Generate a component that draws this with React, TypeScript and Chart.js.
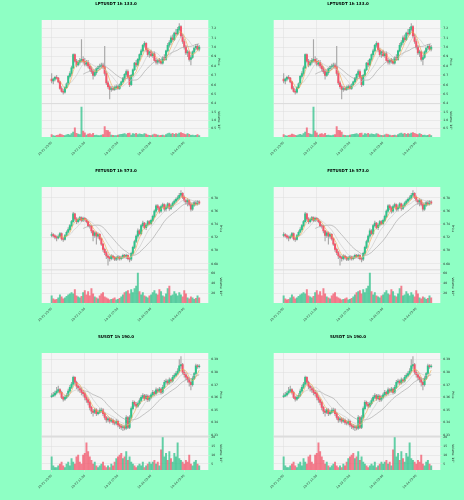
import React, { useEffect, useRef } from 'react';
import { Chart, registerables } from 'chart.js';

Chart.register(...registerables);

const FONT = '"DejaVu Sans", sans-serif';
const PAGE_BG = '#8effc4';
const PLOT_BG = '#f5f5f5';
const GRID = '#dcdcdc';
const UP = '#2fc28a';
const DOWN = '#f2566b';
const VOL_UP = 'rgba(47,194,138,0.75)';
const VOL_DOWN = 'rgba(242,86,107,0.75)';
const WICK = '#a8a8a8';
const MA_WINDOWS = [5, 10, 20];
const MA_COLORS = ['#f0a848', '#c8c8c8', '#a0a0a0'];

const X_TICKS = [0, 20, 40, 60, 80];
const X_LABELS = ['10-21 15:00', '10-22 11:00', '10-23 07:00', '10-24 03:00', '10-24 23:00'];

// ---------- LPTUSDT ----------
const LPT_OPEN = [6.66,6.64,6.66,6.68,6.67,6.63,6.56,6.53,6.52,6.57,6.61,6.69,6.72,6.78,6.92,6.85,6.81,6.84,6.86,6.87,6.85,6.82,6.84,6.80,6.77,6.74,6.70,6.73,6.77,6.79,6.80,6.81,6.79,6.72,6.62,6.58,6.55,6.56,6.55,6.57,6.58,6.56,6.60,6.63,6.67,6.71,6.74,6.68,6.60,6.70,6.76,6.83,6.81,6.87,6.92,6.96,7.02,7.04,6.97,6.92,6.95,6.91,6.93,6.86,6.84,6.86,6.85,6.83,6.89,6.87,6.96,7.02,7.05,7.10,7.08,7.15,7.14,7.19,7.22,7.12,7.06,7.00,6.94,6.95,6.87,6.89,6.95,6.99,7.01,6.98];
const LPT_HIGH = [6.72,6.67,6.69,6.70,6.68,6.64,6.58,6.55,6.58,6.62,6.70,6.74,6.80,6.93,6.93,6.87,6.86,6.88,7.08,6.90,6.88,6.86,6.86,6.82,6.79,6.76,6.75,6.78,6.80,6.82,6.83,6.83,7.01,6.74,6.64,6.60,6.58,6.58,6.59,6.60,6.60,6.61,6.64,6.68,6.72,6.76,6.76,6.70,6.71,6.77,6.84,6.86,6.88,6.93,6.98,7.03,7.06,7.05,6.99,6.96,6.97,6.95,6.95,6.88,6.87,6.88,6.87,6.90,6.92,6.97,7.04,7.07,7.12,7.13,7.16,7.19,7.21,7.25,7.23,7.14,7.08,7.02,6.97,6.96,6.91,6.96,7.00,7.03,7.03,7.02];
const LPT_LOW = [6.62,6.61,6.64,6.66,6.62,6.55,6.52,6.50,6.51,6.56,6.60,6.67,6.70,6.77,6.84,6.79,6.80,6.82,6.84,6.83,6.80,6.80,6.78,6.75,6.72,6.66,6.69,6.71,6.75,6.76,6.78,6.77,6.70,6.60,6.56,6.45,6.53,6.54,6.54,6.55,6.55,6.55,6.59,6.62,6.65,6.69,6.67,6.58,6.59,6.69,6.75,6.79,6.80,6.85,6.90,6.95,7.00,6.95,6.90,6.89,6.90,6.89,6.85,6.82,6.82,6.83,6.82,6.82,6.86,6.86,6.95,7.00,7.03,7.06,7.07,7.12,7.13,7.17,7.10,7.04,6.98,6.92,6.90,6.85,6.81,6.88,6.94,6.97,6.97,6.96];
const LPT_CLOSE = [6.64,6.66,6.68,6.67,6.63,6.56,6.53,6.52,6.57,6.61,6.69,6.72,6.78,6.92,6.85,6.81,6.84,6.86,6.87,6.85,6.82,6.84,6.80,6.77,6.74,6.70,6.73,6.77,6.79,6.80,6.81,6.79,6.72,6.62,6.58,6.55,6.56,6.55,6.57,6.58,6.56,6.60,6.63,6.67,6.71,6.74,6.68,6.60,6.70,6.76,6.83,6.81,6.87,6.92,6.96,7.02,7.04,6.97,6.92,6.95,6.91,6.93,6.86,6.84,6.86,6.85,6.83,6.89,6.87,6.96,7.02,7.05,7.10,7.08,7.15,7.14,7.19,7.22,7.12,7.06,7.00,6.94,6.95,6.87,6.89,6.95,6.99,7.01,6.98,7.00];
const LPT_VOLUME = [0.15,0.08,0.06,0.10,0.12,0.18,0.14,0.10,0.09,0.13,0.16,0.12,0.20,0.30,0.55,0.22,0.18,0.15,1.78,0.35,0.25,0.12,0.18,0.20,0.14,0.22,0.10,0.12,0.09,0.08,0.11,0.15,0.62,0.40,0.38,0.30,0.12,0.10,0.08,0.09,0.11,0.14,0.16,0.18,0.20,0.15,0.22,0.24,0.12,0.20,0.18,0.22,0.15,0.19,0.16,0.14,0.20,0.17,0.12,0.10,0.09,0.13,0.18,0.15,0.11,0.08,0.10,0.12,0.09,0.14,0.20,0.24,0.18,0.22,0.16,0.20,0.18,0.24,0.26,0.22,0.18,0.14,0.20,0.16,0.10,0.12,0.08,0.10,0.14,0.09];
const LPT_PRICE_TICKS = [6.4, 6.5, 6.6, 6.7, 6.8, 6.9, 7.0, 7.1, 7.2];
const LPT_VOL_TICKS = [0.5, 1.0, 1.5];

// ---------- FETUSDT ----------
const FET_OPEN = [0.7230,0.7245,0.7225,0.7205,0.7195,0.7215,0.7260,0.7180,0.7170,0.7230,0.7280,0.7320,0.7380,0.7440,0.7560,0.7480,0.7440,0.7470,0.7500,0.7460,0.7490,0.7470,0.7440,0.7380,0.7370,0.7300,0.7230,0.7270,0.7220,0.7250,0.7180,0.7100,0.7020,0.6970,0.6920,0.6900,0.6880,0.6920,0.6900,0.6870,0.6890,0.6910,0.6880,0.6900,0.6930,0.6910,0.6930,0.6880,0.6870,0.6960,0.7050,0.7140,0.7220,0.7300,0.7260,0.7380,0.7420,0.7350,0.7390,0.7440,0.7410,0.7460,0.7520,0.7600,0.7680,0.7650,0.7600,0.7670,0.7700,0.7630,0.7660,0.7710,0.7640,0.7680,0.7720,0.7750,0.7780,0.7800,0.7840,0.7870,0.7810,0.7760,0.7740,0.7760,0.7700,0.7630,0.7690,0.7730,0.7710,0.7740];
const FET_HIGH = [0.7275,0.7260,0.7240,0.7225,0.7240,0.7280,0.7270,0.7200,0.7250,0.7300,0.7350,0.7400,0.7460,0.7580,0.7570,0.7500,0.7495,0.7520,0.7515,0.7510,0.7505,0.7485,0.7450,0.7400,0.7385,0.7310,0.7290,0.7285,0.7270,0.7260,0.7190,0.7110,0.7040,0.6990,0.6940,0.6920,0.6940,0.6935,0.6915,0.6910,0.6930,0.6920,0.6920,0.6950,0.6945,0.6950,0.6940,0.6900,0.6980,0.7070,0.7160,0.7240,0.7330,0.7320,0.7400,0.7450,0.7430,0.7410,0.7460,0.7455,0.7480,0.7540,0.7620,0.7700,0.7700,0.7670,0.7690,0.7720,0.7710,0.7690,0.7730,0.7720,0.7700,0.7740,0.7770,0.7800,0.7830,0.7870,0.7910,0.7880,0.7830,0.7780,0.7790,0.7780,0.7720,0.7710,0.7750,0.7760,0.7760,0.7760];
const FET_LOW = [0.7210,0.7205,0.7180,0.7150,0.7180,0.7200,0.7160,0.7140,0.7160,0.7215,0.7265,0.7300,0.7360,0.7430,0.7460,0.7410,0.7420,0.7450,0.7440,0.7440,0.7450,0.7420,0.7360,0.7340,0.7270,0.7150,0.7200,0.7100,0.7190,0.7160,0.7080,0.6990,0.6940,0.6880,0.6780,0.6840,0.6860,0.6870,0.6850,0.6850,0.6860,0.6855,0.6860,0.6880,0.6890,0.6880,0.6860,0.6830,0.6850,0.6940,0.7030,0.7120,0.7190,0.7240,0.7240,0.7360,0.7330,0.7320,0.7370,0.7390,0.7390,0.7440,0.7500,0.7580,0.7620,0.7570,0.7580,0.7650,0.7600,0.7600,0.7640,0.7610,0.7620,0.7660,0.7700,0.7730,0.7760,0.7780,0.7820,0.7790,0.7740,0.7700,0.7680,0.7680,0.7600,0.7610,0.7670,0.7690,0.7690,0.7700];
const FET_CLOSE = [0.7245,0.7225,0.7205,0.7195,0.7215,0.7260,0.7180,0.7170,0.7230,0.7280,0.7320,0.7380,0.7440,0.7560,0.7480,0.7440,0.7470,0.7500,0.7460,0.7490,0.7470,0.7440,0.7380,0.7370,0.7300,0.7230,0.7270,0.7220,0.7250,0.7180,0.7100,0.7020,0.6970,0.6920,0.6900,0.6880,0.6920,0.6900,0.6870,0.6890,0.6910,0.6880,0.6900,0.6930,0.6910,0.6930,0.6880,0.6870,0.6960,0.7050,0.7140,0.7220,0.7300,0.7260,0.7380,0.7420,0.7350,0.7390,0.7440,0.7410,0.7460,0.7520,0.7600,0.7680,0.7650,0.7600,0.7670,0.7700,0.7630,0.7660,0.7710,0.7640,0.7680,0.7720,0.7750,0.7780,0.7800,0.7840,0.7870,0.7810,0.7760,0.7740,0.7760,0.7700,0.7630,0.7690,0.7730,0.7710,0.7740,0.7720];
const FET_VOLUME = [16,10,8,9,12,18,14,10,12,15,18,20,22,20,28,16,14,12,15,22,26,18,24,16,30,20,14,12,10,16,20,22,14,12,10,8,9,10,12,8,9,11,14,18,22,24,26,20,28,22,30,35,60,24,18,22,16,14,12,16,18,22,26,20,18,28,24,16,14,20,30,35,16,18,24,20,16,22,18,14,26,20,12,10,14,12,9,11,16,12];
const FET_PRICE_TICKS = [0.68, 0.70, 0.72, 0.74, 0.76, 0.78];
const FET_VOL_TICKS = [20, 40, 60];

// ---------- SUSDT ----------
const S_OPEN = [0.3605,0.3612,0.3620,0.3635,0.3650,0.3662,0.3640,0.3600,0.3585,0.3600,0.3615,0.3650,0.3680,0.3705,0.3760,0.3720,0.3690,0.3675,0.3660,0.3640,0.3630,0.3600,0.3580,0.3560,0.3520,0.3490,0.3480,0.3500,0.3470,0.3480,0.3495,0.3500,0.3470,0.3440,0.3420,0.3430,0.3410,0.3420,0.3400,0.3395,0.3410,0.3380,0.3370,0.3360,0.3365,0.3355,0.3440,0.3360,0.3440,0.3510,0.3560,0.3545,0.3530,0.3550,0.3575,0.3600,0.3615,0.3590,0.3610,0.3580,0.3600,0.3620,0.3640,0.3630,0.3660,0.3650,0.3665,0.3640,0.3680,0.3720,0.3730,0.3715,0.3740,0.3730,0.3760,0.3775,0.3790,0.3810,0.3850,0.3860,0.3800,0.3780,0.3760,0.3740,0.3720,0.3700,0.3750,0.3790,0.3850,0.3845];
const S_HIGH = [0.3630,0.3640,0.3650,0.3680,0.3690,0.3670,0.3650,0.3610,0.3615,0.3630,0.3665,0.3695,0.3720,0.3770,0.3765,0.3730,0.3700,0.3690,0.3675,0.3655,0.3640,0.3615,0.3590,0.3570,0.3530,0.3505,0.3515,0.3510,0.3495,0.3510,0.3515,0.3510,0.3480,0.3450,0.3445,0.3440,0.3435,0.3430,0.3415,0.3425,0.3420,0.3390,0.3385,0.3380,0.3375,0.3455,0.3450,0.3455,0.3525,0.3575,0.3570,0.3560,0.3565,0.3590,0.3615,0.3630,0.3625,0.3625,0.3620,0.3615,0.3635,0.3655,0.3650,0.3675,0.3670,0.3680,0.3675,0.3695,0.3735,0.3745,0.3740,0.3755,0.3750,0.3775,0.3790,0.3805,0.3830,0.3900,0.3925,0.3870,0.3815,0.3795,0.3770,0.3755,0.3730,0.3765,0.3800,0.3865,0.3860,0.3860];
const S_LOW = [0.3598,0.3605,0.3610,0.3625,0.3640,0.3625,0.3590,0.3570,0.3575,0.3590,0.3605,0.3640,0.3670,0.3695,0.3705,0.3670,0.3650,0.3640,0.3620,0.3610,0.3580,0.3560,0.3540,0.3500,0.3470,0.3450,0.3470,0.3455,0.3460,0.3470,0.3480,0.3455,0.3425,0.3400,0.3405,0.3395,0.3400,0.3385,0.3380,0.3380,0.3365,0.3350,0.3345,0.3335,0.3340,0.3345,0.3350,0.3350,0.3430,0.3500,0.3530,0.3515,0.3520,0.3540,0.3565,0.3590,0.3575,0.3580,0.3565,0.3570,0.3590,0.3610,0.3615,0.3620,0.3635,0.3640,0.3625,0.3630,0.3670,0.3705,0.3700,0.3705,0.3715,0.3720,0.3750,0.3765,0.3780,0.3800,0.3830,0.3785,0.3760,0.3740,0.3720,0.3690,0.3660,0.3690,0.3740,0.3780,0.3830,0.3835];
const S_CLOSE = [0.3612,0.3620,0.3635,0.3650,0.3662,0.3640,0.3600,0.3585,0.3600,0.3615,0.3650,0.3680,0.3705,0.3760,0.3720,0.3690,0.3675,0.3660,0.3640,0.3630,0.3600,0.3580,0.3560,0.3520,0.3490,0.3480,0.3500,0.3470,0.3480,0.3495,0.3500,0.3470,0.3440,0.3420,0.3430,0.3410,0.3420,0.3400,0.3395,0.3410,0.3380,0.3370,0.3360,0.3365,0.3355,0.3440,0.3360,0.3440,0.3510,0.3560,0.3545,0.3530,0.3550,0.3575,0.3600,0.3615,0.3590,0.3610,0.3580,0.3600,0.3620,0.3640,0.3630,0.3660,0.3650,0.3665,0.3640,0.3680,0.3720,0.3730,0.3715,0.3740,0.3730,0.3760,0.3775,0.3790,0.3810,0.3850,0.3860,0.3800,0.3780,0.3760,0.3740,0.3720,0.3700,0.3750,0.3790,0.3850,0.3845,0.3848];
const S_VOLUME = [9,4,3,3,4,5,6,4,3,5,6,4,8,6,5,9,10,6,5,10,11,17,12,9,7,5,6,4,3,4,5,6,4,3,4,3,5,4,6,8,9,10,11,8,9,12,7,9,6,5,4,3,4,5,4,6,3,4,5,6,5,6,7,5,6,4,13,20,9,11,7,12,8,6,11,9,17,8,7,6,5,7,6,10,5,4,6,7,5,4];
const S_PRICE_TICKS = [0.33, 0.34, 0.35, 0.36, 0.37, 0.38, 0.39];
const S_VOL_TICKS = [5, 10, 15, 20];

type Spec = {
  title: string;
  open: number[]; high: number[]; low: number[]; close: number[]; volume: number[];
  priceMin: number; priceMax: number; priceTicks: number[]; priceDec: number;
  volMin: number; volMax: number; volTicks: number[]; volDec: number; volLabel: string;
  axisWidth: number;
};

const SPECS: Spec[] = [
  { title: 'LPTUSDT 1h 133.0', open: LPT_OPEN, high: LPT_HIGH, low: LPT_LOW, close: LPT_CLOSE, volume: LPT_VOLUME,
    priceMin: 6.4, priceMax: 7.289, priceTicks: LPT_PRICE_TICKS, priceDec: 1,
    volMin: 0, volMax: 1.99, volTicks: LPT_VOL_TICKS, volDec: 1, volLabel: 'Volume  10\u2075', axisWidth: 12.5 },
  { title: 'FETUSDT 1h 573.0', open: FET_OPEN, high: FET_HIGH, low: FET_LOW, close: FET_CLOSE, volume: FET_VOLUME,
    priceMin: 0.671, priceMax: 0.7965, priceTicks: FET_PRICE_TICKS, priceDec: 2,
    volMin: 1.9, volMax: 66.5, volTicks: FET_VOL_TICKS, volDec: 0, volLabel: 'Volume  10\u2074', axisWidth: 14 },
  { title: 'SUSDT 1h 190.0', open: S_OPEN, high: S_HIGH, low: S_LOW, close: S_CLOSE, volume: S_VOLUME,
    priceMin: 0.3288, priceMax: 0.3953, priceTicks: S_PRICE_TICKS, priceDec: 2,
    volMin: 1.56, volMax: 20.6, volTicks: S_VOL_TICKS, volDec: 0, volLabel: 'Volume  10\u2075', axisWidth: 14 },
];

const ROW_TOPS = [0, 167, 333];
const ROW_HEIGHTS = [167, 166, 167];
const CELL_W = 232;
const PLOT_LEFT = 41.7;
const PLOT_RIGHT = 208.3;

function movingAverage(values: number[], w: number) {
  const out: { x: number; y: number }[] = [];
  for (let i = w - 1; i < values.length; i++) {
    let s = 0;
    for (let j = i - w + 1; j <= i; j++) s += values[j];
    out.push({ x: i, y: s / w });
  }
  return out;
}

function Panel({ spec, left, top, height }: { spec: Spec; left: number; top: number; height: number }) {
  const ref = useRef<HTMLCanvasElement | null>(null);
  useEffect(() => {
    if (!ref.current) return;
    const { open, high, low, close, volume } = spec;
    const isUp = close.map((c, i) => c >= open[i]);
    const bodyData = close.map((c, i) => ({ x: i, y: [open[i], c] }));
    const wickData = close.map((_, i) => ({ x: i, y: [low[i], high[i]] }));
    const volData = volume.map((v, i) => ({ x: i, y: v }));
    const small = { family: FONT, size: 3 };

    const bgPlugin = {
      id: 'plotBg',
      beforeDraw(chart: any) {
        const { ctx, chartArea: a } = chart;
        ctx.save();
        ctx.fillStyle = PLOT_BG;
        ctx.fillRect(a.left, a.top, a.right - a.left, a.bottom - a.top);
        const yb = chart.scales.y.bottom;
        ctx.strokeStyle = '#c8c8c8';
        ctx.lineWidth = 0.6;
        ctx.beginPath();
        ctx.moveTo(a.left, yb);
        ctx.lineTo(a.right, yb);
        ctx.stroke();
        ctx.restore();
      },
    };
    const titlePlugin = {
      id: 'panelTitle',
      afterDraw(chart: any) {
        const ctx = chart.ctx;
        ctx.save();
        ctx.font = `bold 4px ${FONT}`;
        ctx.fillStyle = '#000';
        ctx.textAlign = 'center';
        ctx.textBaseline = 'middle';
        ctx.fillText(spec.title, CELL_W / 2, 3.6);
        ctx.restore();
      },
    };

    const rightPad = CELL_W - PLOT_RIGHT - spec.axisWidth;

    const chart = new Chart(ref.current, {
      type: 'bar',
      data: {
        datasets: [
          ...MA_WINDOWS.map((w, k) => ({
            type: 'line' as const,
            data: movingAverage(close, w),
            yAxisID: 'y',
            borderColor: MA_COLORS[k],
            borderWidth: 0.6,
            pointRadius: 0,
            tension: 0,
            fill: false,
            order: 0,
          })),
          { type: 'bar' as const, data: bodyData as any, yAxisID: 'y', backgroundColor: isUp.map(u => (u ? UP : DOWN)), barThickness: 1.4, grouped: false, order: 1 },
          { type: 'bar' as const, data: wickData as any, yAxisID: 'y', backgroundColor: WICK, barThickness: 0.5, grouped: false, order: 2 },
          { type: 'bar' as const, data: volData as any, yAxisID: 'yv', backgroundColor: isUp.map(u => (u ? VOL_UP : VOL_DOWN)), barThickness: 1.3, grouped: false, order: 3 },
        ],
      },
      options: {
        animation: false,
        responsive: false,
        maintainAspectRatio: false,
        layout: { padding: { left: PLOT_LEFT, right: rightPad, top: 20, bottom: 0 } },
        plugins: { legend: { display: false }, tooltip: { enabled: false }, title: { display: false } },
        scales: {
          x: {
            type: 'linear',
            min: -6,
            max: 94.5,
            offset: false,
            afterBuildTicks: (s: any) => { s.ticks = X_TICKS.map(v => ({ value: v })); },
            afterFit: (s: any) => { s.height = 30; },
            ticks: {
              autoSkip: false,
              minRotation: 45,
              maxRotation: 45,
              font: small,
              color: '#222',
              padding: 2,
              callback: (v: any) => X_LABELS[X_TICKS.indexOf(Number(v))] ?? '',
            },
            grid: { color: GRID, lineWidth: 0.5, tickLength: 2, offset: false },
            border: { display: false },
          },
          y: {
            type: 'linear',
            position: 'right',
            stack: 'main',
            stackWeight: 5,
            min: spec.priceMin,
            max: spec.priceMax,
            afterBuildTicks: (s: any) => { s.ticks = spec.priceTicks.map(v => ({ value: v })); },
            afterFit: (s: any) => { s.width = spec.axisWidth; },
            ticks: { autoSkip: false, font: small, color: '#222', padding: 1, callback: (v: any) => Number(v).toFixed(spec.priceDec) },
            grid: { color: GRID, lineWidth: 0.5, tickLength: 2 },
            border: { display: false },
            title: { display: true, text: 'Price', font: small, color: '#222', padding: 0 },
          },
          yv: {
            type: 'linear',
            position: 'right',
            stack: 'main',
            stackWeight: 2,
            min: spec.volMin,
            max: spec.volMax,
            afterBuildTicks: (s: any) => { s.ticks = spec.volTicks.map(v => ({ value: v })); },
            afterFit: (s: any) => { s.width = spec.axisWidth; },
            ticks: { autoSkip: false, font: small, color: '#222', padding: 1, callback: (v: any) => Number(v).toFixed(spec.volDec) },
            grid: { color: GRID, lineWidth: 0.5, tickLength: 2 },
            border: { display: false },
            title: { display: true, text: spec.volLabel, font: small, color: '#222', padding: 0 },
          },
        },
      } as any,
      plugins: [bgPlugin, titlePlugin],
    });
    return () => chart.destroy();
  }, [spec]);
  return (
    <canvas
      ref={ref}
      width={CELL_W}
      height={height}
      style={{ position: 'absolute', left, top, width: CELL_W, height, display: 'block' }}
    />
  );
}

export default function App() {
  useEffect(() => {
    document.body.style.margin = '0';
    document.body.style.background = PAGE_BG;
  }, []);
  return (
    <div style={{ position: 'fixed', left: 0, top: 0, width: 464, height: 500, background: PAGE_BG, overflow: 'hidden' }}>
      {SPECS.map((s, r) =>
        [0, 1].map(c => (
          <Panel key={`${r}-${c}`} spec={s} left={c * CELL_W} top={ROW_TOPS[r]} height={ROW_HEIGHTS[r]} />
        ))
      )}
    </div>
  );
}
